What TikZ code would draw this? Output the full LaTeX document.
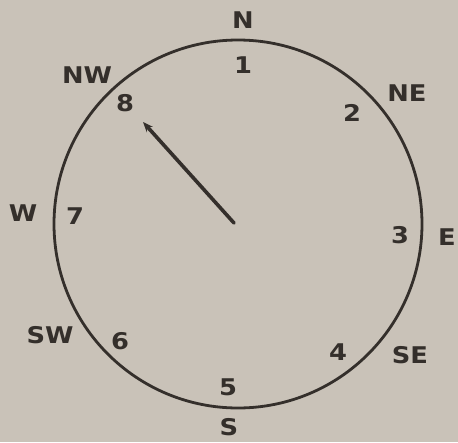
\documentclass[tikz,border=0pt]{standalone}
\usepackage{fontspec}
\setmainfont[FakeStretch=1.12]{DejaVu Sans}
\usetikzlibrary{arrows.meta}

\definecolor{paper}{RGB}{201,194,184}
\definecolor{ink}{RGB}{52,47,43}

\begin{document}
\begin{tikzpicture}[
  x=1pt, y=-1pt,
  font=\fontsize{23}{23}\selectfont\bfseries,
  point/.style={text=ink, inner sep=0pt},
  num/.style={text=ink, inner sep=0pt},
  dial/.style={draw=ink, line width=2.8pt},
  pointer/.style={-{Stealth[length=10pt,width=8pt]}, draw=ink, line width=3.6pt, line cap=round},
]

% background and frame
\fill[paper] (0,0) rectangle (458,442);
\useasboundingbox (0,0) rectangle (458,442);

\coordinate (mid) at (238,224);
\draw[dial] (mid) circle (184);

% compass points
\node[point] (N)  at (243,20)  {N};
\node[point] (NE) at (407,93)  {NE};
\node[point] (E)  at (447,237) {E};
\node[point] (SE) at (410,355) {SE};
\node[point] (S)  at (229,427) {S};
\node[point] (SW) at (50,335)  {SW};
\node[point] (W)  at (23,213)  {W};
\node[point] (NW) at (87,75)   {NW};

% numbers inside the dial
\node[num] (n1) at (243,65)  {1};
\node[num] (n2) at (352,113) {2};
\node[num] (n3) at (400,235) {3};
\node[num] (n4) at (338,352) {4};
\node[num] (n5) at (228,387) {5};
\node[num] (n6) at (120,341) {6};
\node[num] (n7) at (75,216)  {7};
\node[num] (n8) at (125,103) {8};

% pointer
\coordinate (hub) at (234,223);
\coordinate (tip) at (143,122);
\draw[pointer] (hub) -- (tip);

\end{tikzpicture}
\end{document}
